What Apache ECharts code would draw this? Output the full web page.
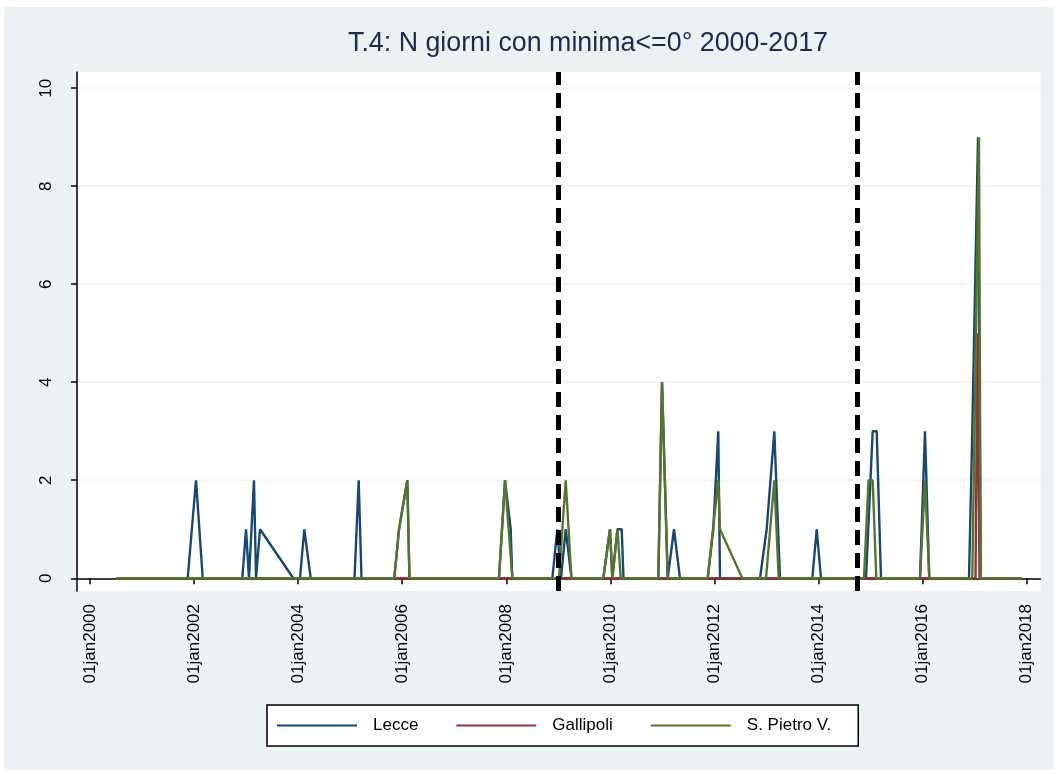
<!DOCTYPE html>
<html>
<head>
<meta charset="utf-8">
<title>T.4</title>
<script src="https://cdn.jsdelivr.net/npm/echarts@6/dist/echarts.min.js"></script>
<style>
html, body { margin: 0; padding: 0; background: #fff; }
#frame { position: absolute; left: 4px; top: 7px; width: 1050px; height: 763px; background: #eaf2f3; }
#chart { position: absolute; left: 0; top: 0; width: 1058px; height: 774px; }
</style>
</head>
<body>
<div id="frame"></div>
<div id="chart"></div>
<script>
// x = anno decimale, y = n. giorni con minima <= 0
var yearTicks = [2000, 2002, 2004, 2006, 2008, 2010, 2012, 2014, 2016, 2018];
var dayTicks = [0, 2, 4, 6, 8, 10];
var seriesNames = ['Lecce', 'Gallipoli', 'S. Pietro V.'];
var seriesColors = ['#1a476f', '#90353b', '#55752f'];

var lecce = [[2000.51,0],[2001.877,0],[2002.037,2],[2002.166,0],[2002.927,0],[2002.998,1],[2003.055,0],
  [2003.151,2],[2003.190,0],[2003.267,1],[2003.907,0],[2004.035,0],[2004.118,1],[2004.241,0],
  [2005.083,0],[2005.163,2],[2005.217,0],[2005.847,0],[2005.938,1],[2006.097,2],[2006.139,0],
  [2007.859,0],[2007.975,2],[2008.084,1],[2008.115,0],[2008.884,0],[2008.980,1],[2009.051,0],
  [2009.141,1],[2009.252,0],[2009.864,0],[2009.992,1],[2010.037,0],[2010.136,1],[2010.217,1],
  [2010.252,0],[2010.921,0],[2010.992,4],[2011.101,0],[2011.222,1],[2011.337,0],[2011.870,0],
  [2011.977,1],[2012.073,3],[2012.106,0],[2012.875,0],[2013.003,1],[2013.150,3],[2013.259,0],
  [2013.880,0],[2013.964,1],[2014.047,0],[2014.912,0],[2015.040,3],[2015.117,3],[2015.200,0],
  [2015.949,0],[2016.045,3],[2016.128,0],[2016.891,0],[2016.954,3],[2017.064,9],[2017.116,0],
  [2017.904,0]];
var gallipoli = [[2000.51,0],[2017.016,0],[2017.054,5],[2017.093,0],[2017.904,0]];
var sPietro = [[2000.51,0],[2005.847,0],[2005.938,1],[2006.097,2],[2006.139,0],[2007.859,0],
  [2007.975,2],[2008.115,0],[2009.012,0],[2009.141,2],[2009.252,0],[2009.864,0],[2009.992,1],
  [2010.037,0],[2010.136,1],[2010.198,0],[2010.921,0],[2010.992,4],[2011.101,0],[2011.870,0],
  [2012.073,2],[2012.106,1],[2012.535,0],[2012.990,0],[2013.150,2],[2013.234,0],[2014.873,0],
  [2014.960,2],[2015.040,2],[2015.110,0],[2015.949,0],[2016.045,2],[2016.128,0],[2016.954,0],
  [2017.083,9],[2017.116,0],[2017.904,0]];
// linee tratteggiate verticali
var cutDates = [2009.0, 2014.74];

var allData = [lecce, gallipoli, sPietro];
var font = '"Liberation Sans", Arial, sans-serif';

var chart = echarts.init(document.getElementById('chart'));

var option = {
  backgroundColor: 'transparent',
  animation: false,
  title: {
    text: 'T.4: N giorni con minima<=0° 2000-2017',
    left: 348,
    top: 30,
    padding: 0,
    textStyle: { color: '#1a2b4c', fontSize: 26.8, fontWeight: 'normal', fontFamily: font }
  },
  grid: {
    left: 77, right: 17.5, top: 72, bottom: 183,
    show: true, backgroundColor: '#fff', borderWidth: 0
  },
  legend: {
    left: 267, top: 705,
    padding: [12, 27, 12, 10],
    icon: 'rect',
    itemWidth: 80, itemHeight: 2, itemGap: 38,
    borderColor: '#000', borderWidth: 1.5, backgroundColor: '#fff',
    data: seriesNames,
    textStyle: { fontSize: 17, color: '#000', fontFamily: font, padding: [0, 0, 0, 11] }
  },
  xAxis: {
    type: 'value',
    min: 1999.75, max: 2018.265,
    axisLine: { lineStyle: { color: '#000', width: 1.5 } },
    axisTick: { customValues: yearTicks, length: 6, lineStyle: { color: '#000', width: 1.5 } },
    axisLabel: {
      customValues: yearTicks, rotate: 90, margin: 13,
      fontSize: 17, color: '#000', fontFamily: font,
      formatter: function (v) { return '01jan' + v; }
    },
    splitLine: { show: false }
  },
  yAxis: {
    type: 'value',
    min: -0.26, max: 10.33,
    axisLine: { show: true, lineStyle: { color: '#000', width: 1.5 } },
    axisTick: { show: true, customValues: dayTicks, length: 6, lineStyle: { color: '#000', width: 1.5 } },
    axisLabel: {
      customValues: dayTicks, rotate: 90, margin: 22,
      fontSize: 17, color: '#000', fontFamily: font
    },
    splitLine: { show: true, lineStyle: { color: '#eaf2f3', width: 1.5 } }
  },
  series: seriesNames.map(function (name, i) {
    var s = {
      name: name,
      type: 'line',
      data: allData[i],
      symbol: 'none',
      color: seriesColors[i],
      lineStyle: { width: 2.4, color: seriesColors[i] }
    };
    if (i === seriesNames.length - 1) {
      s.markLine = {
        silent: true,
        symbol: 'none',
        label: { show: false },
        lineStyle: { color: '#000', width: 5, type: [15, 8] },
        data: cutDates.map(function (d) { return { xAxis: d }; })
      };
    }
    return s;
  })
};

chart.setOption(option);
</script>
</body>
</html>
